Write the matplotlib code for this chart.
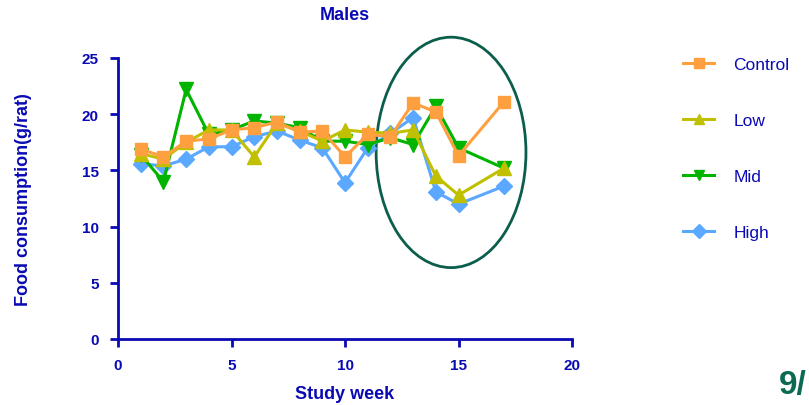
import matplotlib
matplotlib.use('Agg')
import matplotlib.pyplot as plt
from matplotlib.patches import Ellipse

weeks = [1, 2, 3, 4, 5, 6, 7, 8, 9, 10, 11, 12, 13, 14, 15, 17]
control = [16.9, 16.2, 17.6, 17.8, 18.6, 18.8, 19.3, 18.4, 18.5, 16.2, 18.2, 18.0, 21.0, 20.2, 16.3, 21.1]
low = [16.5, 16.0, 17.5, 18.6, 18.6, 16.2, 19.2, 18.5, 17.6, 18.6, 18.4, 18.3, 18.6, 14.5, 12.8, 15.2]
mid = [16.4, 14.0, 22.2, 18.2, 18.6, 19.4, 19.2, 18.8, 17.6, 17.6, 17.3, 17.9, 17.3, 20.7, 17.0, 15.2]
high = [15.6, 15.4, 16.0, 17.1, 17.1, 18.0, 18.5, 17.7, 17.0, 13.9, 17.0, 18.3, 19.7, 13.1, 12.0, 13.6]

blue = '#0a0ab4'
plt.rcParams['font.family'] = ['Liberation Sans', 'DejaVu Sans']

fig = plt.figure(figsize=(8.09, 4.06), dpi=100)
ax = fig.add_axes([0.1459, 0.1626, 0.5612, 0.6921])

# drawn so Control ends up on top
series = [
    ('High', high, '#5aa8ff', 'D', 8),
    ('Mid', mid, '#00b400', 'v', 10),
    ('Low', low, '#c0c000', '^', 10),
    ('Control', control, '#ffa040', 's', 9),
]
handles = {}
for name, vals, col, mk, ms in series:
    h, = ax.plot(weeks, vals, color=col, lw=2.2, marker=mk, markersize=ms,
                 markeredgecolor=col, clip_on=False)
    handles[name] = h

ax.set_xlim(0, 20)
ax.set_ylim(0, 25)
ax.set_xticks([0, 5, 10, 15, 20])
ax.set_yticks([0, 5, 10, 15, 20, 25])
for s in ['top', 'right']:
    ax.spines[s].set_visible(False)
for s in ['left', 'bottom']:
    ax.spines[s].set_color(blue)
    ax.spines[s].set_linewidth(2)
ax.tick_params(colors=blue, width=2, length=6, labelsize=11, pad=8)
for lab in ax.get_xticklabels() + ax.get_yticklabels():
    lab.set_fontweight('bold')

ax.set_xlabel('Study week', color=blue, fontsize=13, fontweight='bold', labelpad=9)
ax.set_ylabel('Food consumption(g/rat)', color=blue, fontsize=13, fontweight='bold', labelpad=36)
ax.set_title('Males', color=blue, fontsize=13, fontweight='bold', pad=28)

ell = Ellipse((14.67, 16.6), 6.6, 20.5, fill=False, edgecolor='#0b5e4c', lw=2, clip_on=False)
ax.add_patch(ell)

order = ['Control', 'Low', 'Mid', 'High']
leg = ax.legend([handles[n] for n in order], order, loc='upper left',
                bbox_to_anchor=(1.21, 1.06), frameon=False, fontsize=12.5,
                labelspacing=2.35, handlelength=1.8, handletextpad=1.1)
for t in leg.get_texts():
    t.set_color(blue)
for lh in leg.get_lines():
    lh.set_markersize(7)

fig.text(0.997, 0.03, '9/', color='#0b6b52', fontsize=24, fontweight='bold', ha='right')

fig.savefig('out.png', dpi=100)
